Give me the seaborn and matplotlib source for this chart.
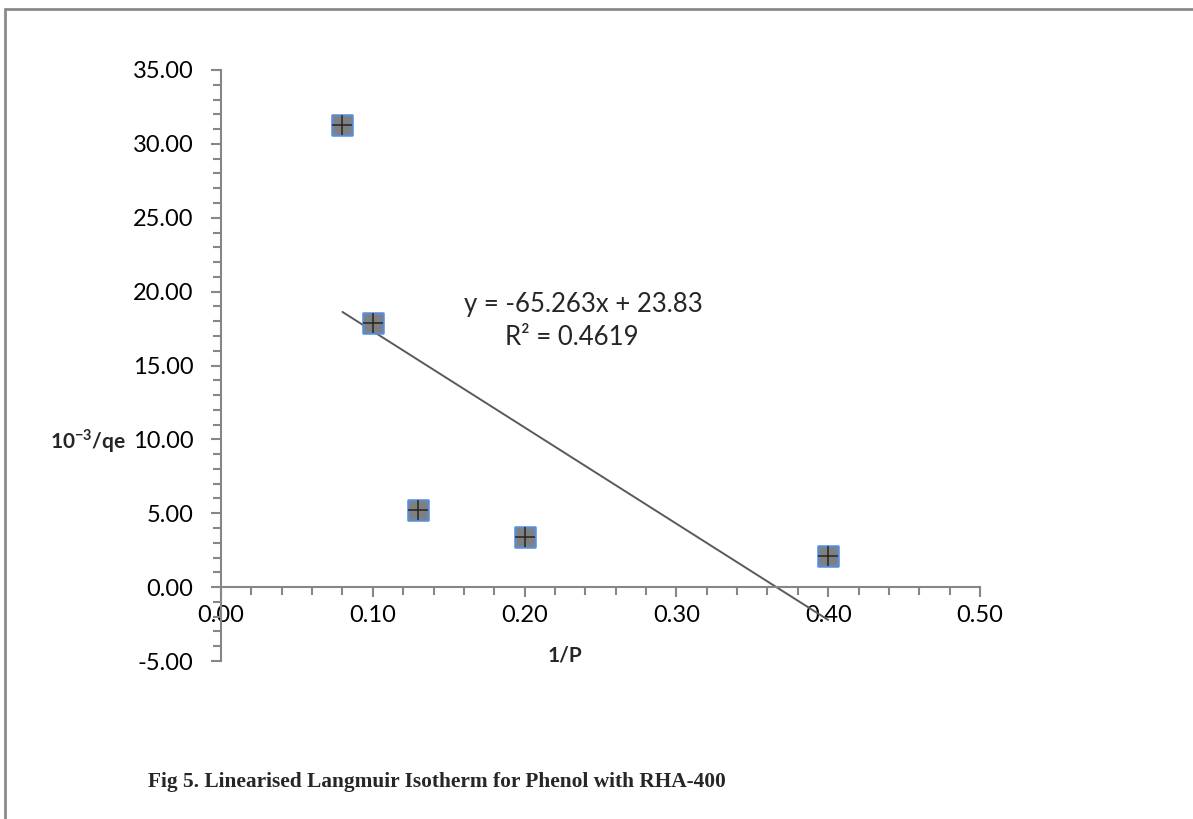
import matplotlib
matplotlib.use("Agg")
import matplotlib.pyplot as plt
import seaborn as sns
import pandas as pd
from matplotlib.ticker import MultipleLocator, FormatStrFormatter
from matplotlib.lines import Line2D

# data
inv_p = [0.08, 0.10, 0.13, 0.20, 0.40]
inv_qe = [31.25, 17.9, 5.25, 3.4, 2.1]
equation_text = "y = -65.263x + 23.83"
r2_text = "R² = 0.4619"
x_label = "1/P"
y_label = "10$^{\\mathregular{-3}}$/qe"
title = "Fig 5. Linearised Langmuir Isotherm for Phenol with RHA-400"

df = pd.DataFrame({"x": inv_p, "y": inv_qe})

sns.set_theme(style="white")
plt.rcParams["font.family"] = ["Lato", "DejaVu Sans"]
plt.rcParams["mathtext.fontset"] = "custom"
plt.rcParams["mathtext.rm"] = "Lato:bold"
plt.rcParams["mathtext.bf"] = "Lato:bold"

fig = plt.figure(figsize=(11.93, 8.19), dpi=100)
ax = fig.add_axes([221/1193, 1-661/819, (980-221)/1193, (661-70)/819])

axis_gray = "#868686"

# trendline
sns.regplot(data=df, x="x", y="y", ax=ax, scatter=False, ci=None, truncate=True,
            line_kws=dict(color="#5a5a5a", linewidth=1.4, zorder=2))

# markers
sns.scatterplot(data=df, x="x", y="y", ax=ax, marker="s", s=215,
                color="#7f7f7f", edgecolor="#5b8bd0", linewidth=1.8, zorder=3)
sns.scatterplot(data=df, x="x", y="y", ax=ax, marker="+", s=220,
                color="#262626", linewidth=1.1, zorder=4)

ax.set_xlim(0, 0.5)
ax.set_ylim(-5, 35)
ax.xaxis.set_major_locator(MultipleLocator(0.1))
ax.xaxis.set_minor_locator(MultipleLocator(0.02))
ax.yaxis.set_major_locator(MultipleLocator(5))
ax.yaxis.set_minor_locator(MultipleLocator(1))
ax.xaxis.set_major_formatter(FormatStrFormatter("%.2f"))
ax.yaxis.set_major_formatter(FormatStrFormatter("%.2f"))

for s in ["top", "right"]:
    ax.spines[s].set_visible(False)
ax.spines["bottom"].set_position(("data", 0))
for s in ["bottom", "left"]:
    ax.spines[s].set_color(axis_gray)
    ax.spines[s].set_linewidth(1.5)

ax.tick_params(axis="both", which="both", direction="out", color=axis_gray,
               width=1.5, bottom=True, left=True, labelsize=17, labelcolor="black")
ax.tick_params(axis="x", which="major", length=7, pad=6)
ax.tick_params(axis="x", which="minor", length=6)
ax.tick_params(axis="y", which="major", length=7, pad=13)
ax.tick_params(axis="y", which="minor", length=6)

ax.set_xlabel("")
ax.set_ylabel("")
fig.text(565/1193, 1-655/819, x_label, ha="center", va="center",
         fontsize=15, fontweight="bold")
fig.text(50/1193, 1-441/819, y_label, ha="left", va="center",
         fontsize=15, fontweight="bold")

ax.text(0.2385, 19.1, equation_text, ha="center", va="center", fontsize=18.5)
ax.text(0.231, 16.9, r2_text, ha="center", va="center", fontsize=18.5)

fig.text(148/1193, 1-782/819, title, ha="left", va="center", fontsize=15.4,
         fontweight="bold", family=["Liberation Serif", "DejaVu Serif"])

# outer frame (top and left)
fig.add_artist(Line2D([4.5/1193, 1.0], [1-8.5/819, 1-8.5/819], color="#8a8a8a",
                      linewidth=2, transform=fig.transFigure))
fig.add_artist(Line2D([4.5/1193, 4.5/1193], [0, 1-8.5/819], color="#8a8a8a",
                      linewidth=2, transform=fig.transFigure))

fig.savefig("out.png", dpi=100)
